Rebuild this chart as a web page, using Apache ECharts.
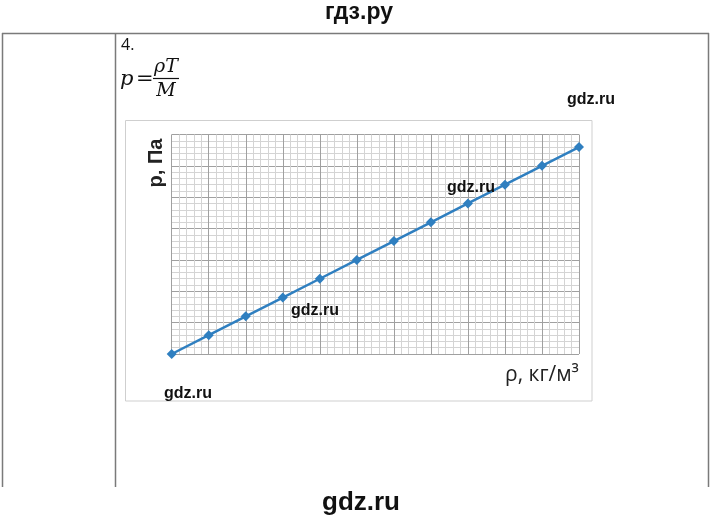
<!DOCTYPE html>
<html><head><meta charset="utf-8">
<script src="https://cdn.jsdelivr.net/npm/echarts@6/dist/echarts.min.js"></script>
<style>html,body{margin:0;padding:0;background:#fff}#c{width:720px;height:519px}</style>
</head><body><div id="c"></div>
<script>
// Data (axes have no tick labels)
const densityValues = [0, 1, 2, 3, 4, 5, 6, 7, 8, 9, 10, 11];
const pressureValues = [0, 0.6, 1.2, 1.8, 2.4, 3.0, 3.6, 4.2, 4.8, 5.4, 6.0, 6.6];
const yAxisName = 'p, Па';
const xAxisName = 'ρ, кг/м³';

const chart = echarts.init(document.getElementById('c'), null, {renderer: 'canvas'});
const wm = (x, y, size) => ({type: 'text', x: x, y: y, style: {text: 'gdz.ru', font: 'bold ' + size + 'px "Liberation Sans", Arial, sans-serif', fill: '#111', align: 'center', verticalAlign: 'middle'}, z: 100});
const lineStyle = {stroke: '#7a7a7a', lineWidth: 1.5};
chart.setOption({
  animation: false,
  backgroundColor: '#fff',
  grid: {left: 171.7, top: 134.5, width: 407.3, height: 219.5, containLabel: false},
  xAxis: {
    type: 'value', min: 0, max: 11, interval: 1,
    axisLine: {show: false}, axisTick: {show: false}, axisLabel: {show: false},
    splitLine: {show: true, lineStyle: {color: '#a0a0a0', width: 1}},
    minorTick: {show: false, splitNumber: 5},
    minorSplitLine: {show: true, lineStyle: {color: '#d4d4d4', width: 1}}
  },
  yAxis: {
    type: 'value', min: 0, max: 7, interval: 1,
    axisLine: {show: false}, axisTick: {show: false}, axisLabel: {show: false},
    splitLine: {show: true, lineStyle: {color: '#a0a0a0', width: 1}},
    minorTick: {show: false, splitNumber: 5},
    minorSplitLine: {show: true, lineStyle: {color: '#d4d4d4', width: 1}}
  },
  series: [{
    type: 'line',
    data: densityValues.map((x, i) => [x, pressureValues[i]]),
    symbol: 'diamond', symbolSize: 10,
    lineStyle: {color: '#2f7fc0', width: 2.5},
    itemStyle: {color: '#2f7fc0'},
    z: 5
  }],
  graphic: [
    // page title
    {type: 'text', x: 359, y: 13, style: {text: 'гдз.ру', font: 'bold 23px "Liberation Sans", Arial, sans-serif', fill: '#111', align: 'center', verticalAlign: 'middle'}},
    // table borders
    {type: 'line', shape: {x1: 2, y1: 33.5, x2: 709, y2: 33.5}, style: lineStyle},
    {type: 'line', shape: {x1: 2.5, y1: 33, x2: 2.5, y2: 487}, style: lineStyle},
    {type: 'line', shape: {x1: 115.5, y1: 33, x2: 115.5, y2: 487}, style: lineStyle},
    {type: 'line', shape: {x1: 708.5, y1: 33, x2: 708.5, y2: 487}, style: lineStyle},
    // problem number and formula
    {type: 'text', x: 121, y: 37, style: {text: '4.', font: '16px "Open Sans", sans-serif', fill: '#111'}},
    {type: 'text', x: 120, y: 80, style: {text: 'p', font: 'italic 21px "DejaVu Serif", serif', fill: '#111', verticalAlign: 'middle'}},
    {type: 'text', x: 136, y: 80, style: {text: '=', font: '21px "DejaVu Serif", serif', fill: '#111', verticalAlign: 'middle'}},
    {type: 'text', x: 166, y: 67, style: {text: 'ρT', font: 'italic 19px "DejaVu Serif", serif', fill: '#111', align: 'center', verticalAlign: 'middle'}},
    {type: 'line', shape: {x1: 153, y1: 78.5, x2: 179, y2: 78.5}, style: {stroke: '#111', lineWidth: 1.2}},
    {type: 'text', x: 166, y: 91, style: {text: 'M', font: 'italic 19px "DejaVu Serif", serif', fill: '#111', align: 'center', verticalAlign: 'middle'}},
    // chart frame
    {type: 'rect', shape: {x: 125.5, y: 120.5, width: 466.5, height: 280.5}, style: {fill: 'none', stroke: '#cfcfcf', lineWidth: 1}, z: -10},
    // axis names
    {type: 'text', x: 156, y: 163, rotation: Math.PI / 2, style: {text: yAxisName, font: 'bold 20px "Liberation Sans", Arial, sans-serif', fill: '#222', align: 'center', verticalAlign: 'middle'}},
    {type: 'text', x: 542, y: 375, style: {text: xAxisName, font: '21px "Open Sans", sans-serif', fill: '#222', align: 'center', verticalAlign: 'middle'}},
    // watermarks
    wm(591, 100, 16), wm(471, 188, 16), wm(315, 311, 16), wm(188, 394, 16), wm(361, 503, 26)
  ]
});
</script></body></html>
